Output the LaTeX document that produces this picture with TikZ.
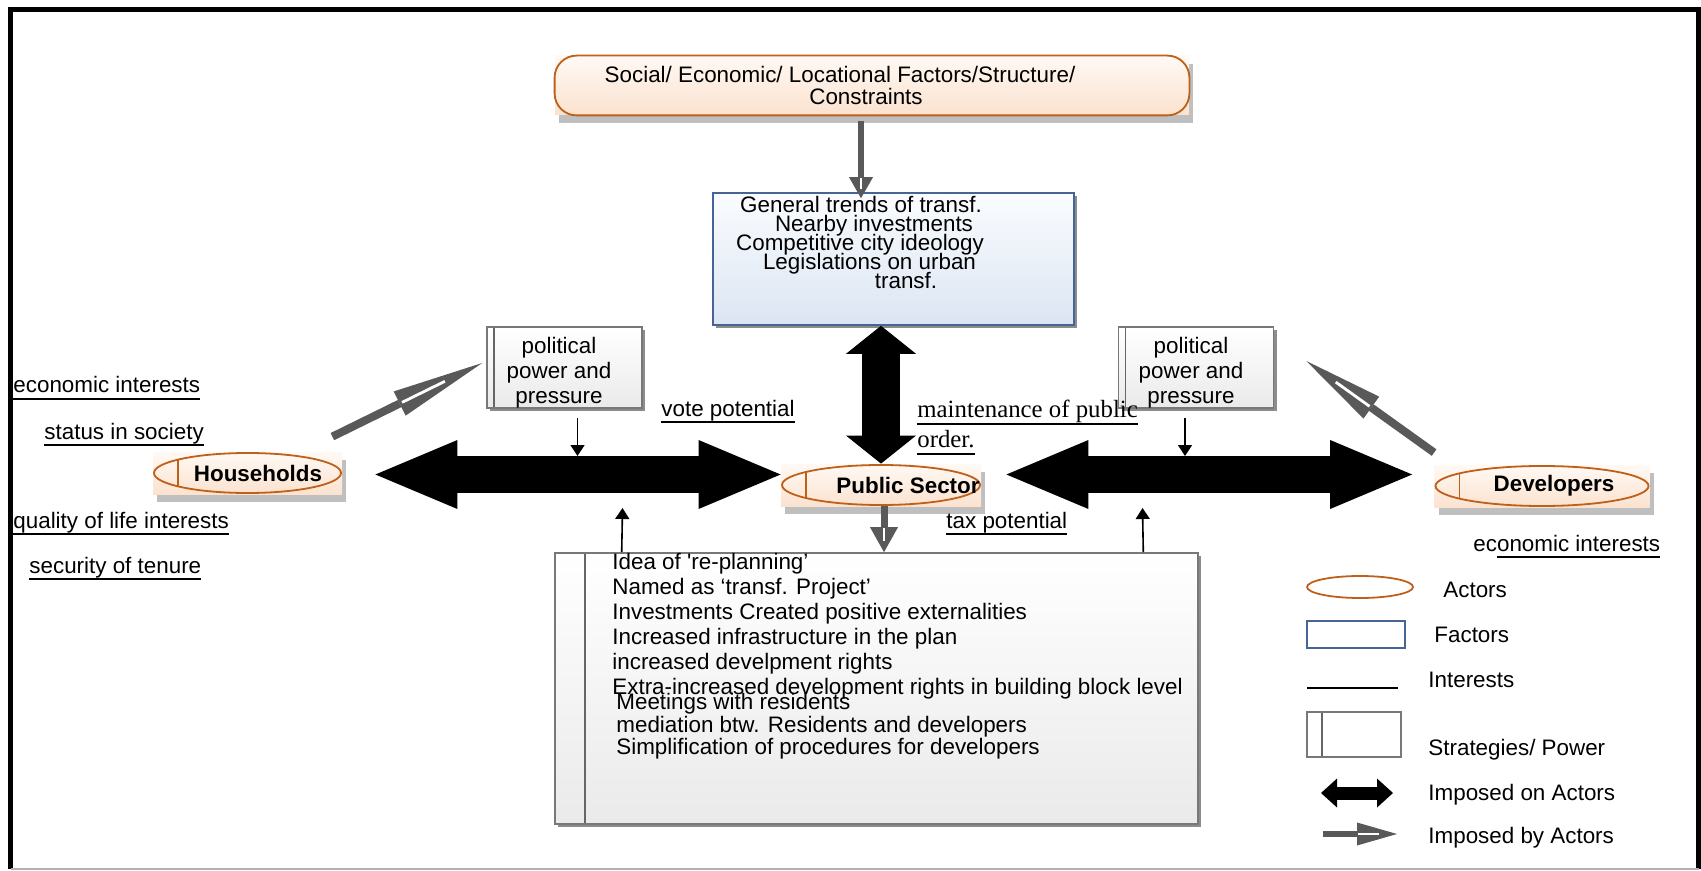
\documentclass[tikz,border=0pt]{standalone}
\usepackage{fontspec}
\setmainfont{Liberation Sans}
\newfontfamily\timesfont{Liberation Serif}
\usetikzlibrary{arrows.meta,shadows,shapes.geometric,decorations.markings}

\newsavebox\intbox
\newcommand\intline[1]{\sbox\intbox{#1}\rlap{\rule[-3.6pt]{\wd\intbox}{0.9pt}}\usebox\intbox}
\newcommand\tightlines{\setlength{\lineskiplimit}{-20pt}}

\definecolor{actorcol}{RGB}{190,96,26}
\definecolor{peachtop}{RGB}{255,249,244}
\definecolor{peachbot}{RGB}{251,226,207}
\definecolor{factorcol}{RGB}{70,100,150}
\definecolor{factortop}{RGB}{250,252,255}
\definecolor{factorbot}{RGB}{219,229,242}
\definecolor{stratcol}{RGB}{120,120,120}
\definecolor{stratbot}{RGB}{234,234,234}
\definecolor{arrowgray}{RGB}{89,89,89}

\tikzset{
  txt/.style={inner sep=0pt, font=\fontsize{11.2}{12.5}\selectfont},
  interest/.style={txt, anchor=base west},
  actorline/.style={draw=actorcol, line width=0.9pt},
  boxshadow/.style={drop shadow={shadow xshift=1.5pt, shadow yshift=-1.5pt, fill=black!45, opacity=1}},
  actorbg/.style={rectangle, inner sep=0pt, top color=peachtop, bottom color=peachbot,
    drop shadow={shadow xshift=2pt, shadow yshift=-4pt, fill=black!25, opacity=1}},
  actor/.style={actorbg, minimum width=#1, minimum height=21pt,
    font=\fontsize{11.2}{12.5}\selectfont\bfseries,
    path picture={
      \draw[actorline] (path picture bounding box.center) ellipse [x radius=#1/2-0.5pt, y radius=10pt];
      \clip (path picture bounding box.center) ellipse [x radius=#1/2-0.5pt, y radius=10pt];
      \draw[actorline] ([xshift=-#1/2+12.5pt]path picture bounding box.center) ++(0,-30) -- ++(0,60);}},
  factor/.style={rectangle, draw=factorcol, line width=0.8pt, inner sep=0pt,
    top color=factortop, bottom color=factorbot, boxshadow},
  strategy/.style={rectangle, draw=stratcol, line width=0.8pt, inner sep=0pt,
    path picture={\draw[black!60, line width=0.8pt]
      ([xshift=#1]path picture bounding box.north west) --
      ([xshift=#1]path picture bounding box.south west);}},
  stratfill/.style={top color=white, bottom color=stratbot, boxshadow},
  fatarr/.style n args={3}{line width=#1,
    {Triangle[length=#2,width=#3,line width=0pt]}-{Triangle[length=#2,width=#3,line width=0pt]}},
  interestarr/.style={line width=0.8pt, -{Triangle[length=5.5pt,width=7pt]}},
  imposed/.style n args={2}{draw=arrowgray, line width=4pt,
    -{Triangle[length=#1, width=#2, line width=0pt]},
    postaction={decorate, decoration={markings, mark=at position 1 with
      {\draw[white, line width=1.4pt, arrows=-] (-0.45*#1,0pt) -- (-0.97*#1,0pt);}}}},
}

\begin{document}
\begin{tikzpicture}[x=0.5pt, y=-0.5pt]
  \useasboundingbox (0,0) rectangle (1701,871);
  % frame
  \draw[line width=2.5pt] (10.5,869) -- (10.5,9.5) -- (1698.5,9.5) -- (1698.5,869);
  \draw[black!30, line width=0.6pt] (10.5,869) -- (1698.5,869);

  % structure and factors
  \node[actorbg, txt, minimum width=317pt, minimum height=29.5pt, align=center,
    font=\fontsize{11.2}{11}\selectfont] (sf) at (872,85.5)
    {\mbox{Social/ Economic/ Locational Factors/Structure/\hspace{32pt}}\\\mbox{Constraints\hspace{6pt}}};
  \draw[actorline, rounded corners=11pt] (sf.north west) rectangle (sf.south east);
  \node[factor, minimum width=180.5pt, minimum height=66pt] (fb) at (893.5,259) {};
  \node[txt, align=center, font=\fontsize{11.2}{9.4}\selectfont\tightlines] (fb-t) at (893.5,242.5)
    {\mbox{General trends of transf.\hspace{32.5pt}}\\\mbox{Nearby investments\hspace{19.5pt}}\\
     \mbox{Competitive city ideology\hspace{33.5pt}}\\\mbox{Legislations on urban\hspace{24pt}}\\
     \mbox{\hspace{12.5pt}transf.}};

  % actors
  \node[actor=94.5pt] (hh) at (247.5,473) {\hspace*{10.5pt}Households};
  \node[actor=100pt] (ps) at (881,485) {\hspace*{27pt}Public Sector};
  \node[actor=107.5pt] (dev) at (1542,486) {\hspace*{12pt}Developers};

  % strategies / power
  \node[strategy=3.5pt, stratfill, txt, minimum width=77.5pt, minimum height=40.5pt, align=center]
    (pl) at (564.5,367.5) {\mbox{\rule{0pt}{13pt}political\hspace{5.5pt}}\\\mbox{power and\hspace{5.5pt}}\\\mbox{pressure\hspace{5.5pt}}};
  \node[strategy=3.5pt, stratfill, txt, minimum width=77.5pt, minimum height=40.5pt, align=center]
    (pr) at (1196,367.5) {\mbox{\rule{0pt}{13pt}political\hspace{5pt}}\\\mbox{power and\hspace{5pt}}\\\mbox{pressure\hspace{5pt}}};
  \node[strategy=15pt, stratfill, minimum width=321.5pt, minimum height=135.5pt] (bx) at (876.5,688.5) {};
  \node[txt, anchor=north west, align=left] (bx-t1) at (612,553)
    {Idea of \textquotesingle re-planning’\\Named as ‘transf. Project’\\
     Investments Created positive externalities\\Increased infrastructure in the plan\\
     increased develpment rights\\Extra-increased development rights in building block level};
  \node[txt, anchor=north west, align=left, font=\fontsize{11.2}{11.25}\selectfont] (bx-t2) at (616,693)
    {Meetings with residents\\mediation btw. Residents and developers\\
     Simplification of procedures for developers};

  % interests
  \node[interest] (hh-i1) at (13,393) {\intline{economic interests}};
  \node[interest] (hh-i2) at (44,439) {\intline{status in society}};
  \node[interest] (hh-i3) at (13,528) {\intline{quality of life interests}};
  \node[interest] (hh-i4) at (29,573) {\intline{security of tenure}};
  \node[interest] (ps-i1) at (661,416) {\intline{vote potential}};
  \node[txt, anchor=north west, align=left, font=\timesfont\fontsize{12.4}{14.75}\selectfont]
    (ps-i2) at (917,400) {\intline{maintenance of public}\\\intline{order.}};
  \node[interest] (ps-i3) at (946,528) {\intline{tax potential}};
  \node[interest] (dev-i1) at (1473,551) {ec\intline{onomic interests}};

  % imposed on actors
  \draw[fatarr={19pt}{14pt}{35pt}] (fb.south -| ps.north) -- (ps.north);
  \draw[fatarr={18.25pt}{41pt}{34.5pt}] ([xshift=16.5pt,yshift=-0.75pt]hh.east) -- ([yshift=5.25pt]ps.west);
  \draw[fatarr={18.25pt}{41pt}{34.5pt}] ([xshift=12.5pt,yshift=5.25pt]ps.east) -- ([xshift=-11pt,yshift=5.75pt]dev.west);
  \coordinate (hp-up) at (577.5,456);
  \coordinate (pd-up) at (1185,456);
  \coordinate (hp-dn) at (622.5,508);
  \coordinate (pd-dn) at (1142.5,508);
  \draw[interestarr] ([xshift=6.5pt,yshift=-4.5pt]pl.south) -- (hp-up);
  \draw[interestarr] ([xshift=-5.5pt,yshift=-4.5pt]pr.south) -- (pd-up);
  \draw[interestarr] ([xshift=33.75pt]bx.north west) -- (hp-dn);
  \draw[interestarr] ([xshift=-27.75pt]bx.north east) -- (pd-dn);

  % imposed by actors
  \draw[imposed={10.5pt}{12pt}, line width=3.25pt] ([xshift=-5.5pt,yshift=-3pt]sf.south) -- ([xshift=-16.25pt,yshift=-3pt]fb.north);
  \draw[imposed={12.5pt}{14pt}, line width=3.5pt] ([xshift=1.5pt]ps.south) -- ([xshift=3.75pt]bx.north);
  \draw[imposed={46pt}{13.5pt}] ([xshift=-5pt,yshift=7.5pt]hh.north east) -- ([xshift=-2pt,yshift=2.25pt]pl.west);
  \draw[imposed={40pt}{13.5pt}] ([yshift=6pt]dev.north west) -- ([xshift=16pt,yshift=3.25pt]pr.east);

  % legend
  \node[ellipse, actorline, minimum width=53pt, minimum height=11pt, inner sep=0pt] (lg-act) at (1360,587) {};
  \node[interest] (lg-act-t) at (1443,597) {Actors};
  \node[rectangle, draw=factorcol, line width=0.8pt, minimum width=49pt, minimum height=13.5pt,
    inner sep=0pt] (lg-fac) at (1356,634.5) {};
  \node[interest] (lg-fac-t) at (1434,642) {Factors};
  \coordinate (lg-int-a) at (1307,688);
  \coordinate (lg-int-b) at (1398,688);
  \draw[line width=1pt] (lg-int-a) -- (lg-int-b);
  \node[interest] (lg-int-t) at (1428,687) {Interests};
  \node[strategy=7.5pt, minimum width=47pt, minimum height=22.5pt] (lg-str) at (1354,734.5) {};
  \node[interest] (lg-str-t) at (1428,755) {Strategies/ Power};
  \coordinate (lg-on-a) at (1321,793);
  \coordinate (lg-on-b) at (1393,793);
  \draw[fatarr={6.5pt}{8pt}{14.5pt}] (lg-on-a) -- (lg-on-b);
  \node[interest] (lg-on-t) at (1428,800) {Imposed on Actors};
  \coordinate (lg-by-a) at (1323,834);
  \coordinate (lg-by-b) at (1397,834);
  \draw[imposed={20pt}{11.5pt}, line width=3pt] (lg-by-a) -- (lg-by-b);
  \node[interest] (lg-by-t) at (1428,843) {Imposed by Actors};
\end{tikzpicture}
\end{document}
